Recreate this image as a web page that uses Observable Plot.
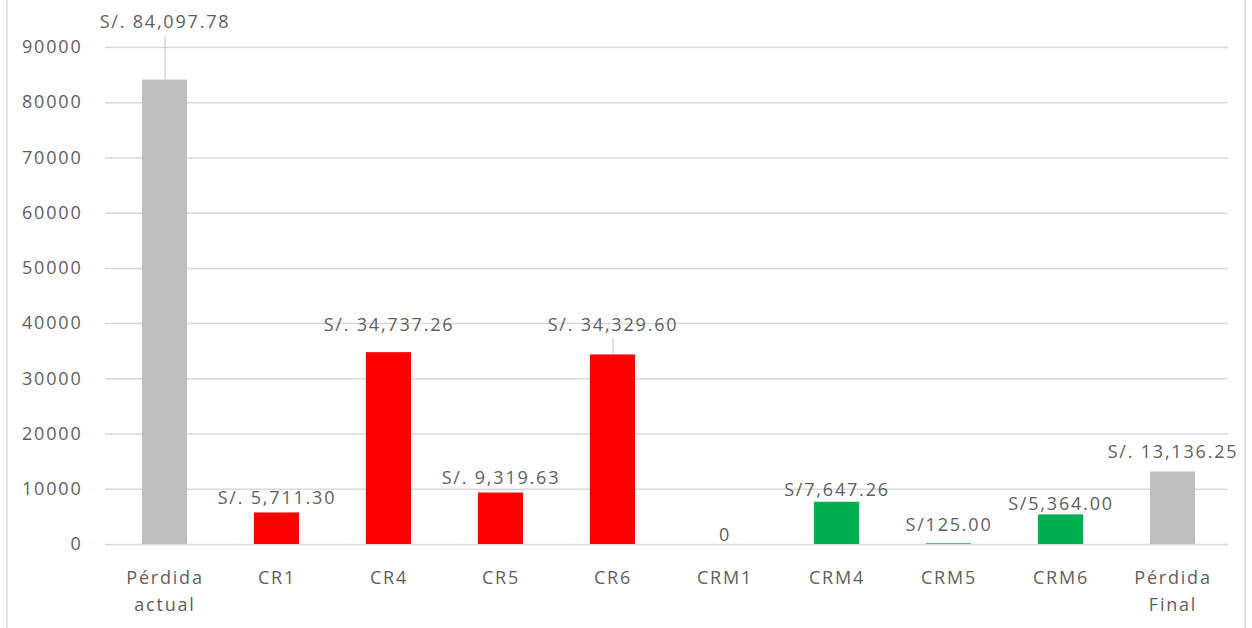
<!DOCTYPE html>
<html>
<head>
<meta charset="utf-8">
<script src="https://cdn.jsdelivr.net/npm/d3@7"></script>
<script src="https://cdn.jsdelivr.net/npm/@observablehq/plot@0.6"></script>
<style>
  html, body { margin: 0; padding: 0; background: #ffffff; }
  #wrap { position: relative; width: 1252px; height: 628px; overflow: hidden; }
  #wrap::before, #wrap::after {
    content: ""; position: absolute; top: 0; bottom: 0; width: 2px; background: #e4e4e4;
  }
  #wrap::before { left: 6px; }
  #wrap::after { left: 1244px; }
  #wrap svg text { letter-spacing: 1.8px; }
</style>
</head>
<body>
<div id="wrap"></div>
<script>
// Categories along the x axis (line breaks split the two-line labels)
const categories = ["Pérdida\nactual", "CR1", "CR4", "CR5", "CR6", "CRM1", "CRM4", "CRM5", "CRM6", "Pérdida\nFinal"];
// Amounts in soles
const values = [84097.78, 5711.30, 34737.26, 9319.63, 34329.60, 0, 7647.26, 125.00, 5364.00, 13136.25];
// Value labels as printed above each bar
const valueLabels = ["S/. 84,097.78", "S/. 5,711.30", "S/. 34,737.26", "S/. 9,319.63", "S/. 34,329.60", "0", "S/7,647.26", "S/125.00", "S/5,364.00", "S/. 13,136.25"];
// Group of each bar: loss, risk control, mitigation control
const groups = ["loss", "cr", "cr", "cr", "cr", "crm", "crm", "crm", "crm", "loss"];
const yTicks = [0, 10000, 20000, 30000, 40000, 50000, 60000, 70000, 80000, 90000];

const rows = categories.map((c, i) => ({cat: c, value: values[i], label: valueLabels[i], group: groups[i], i}));

const groupColor = {loss: "#bfbfbf", cr: "#ff0000", crm: "#00b050"};
// vertical placement of each value label relative to its bar top (px)
const labelLift = [-58, -15, -27, -15, -30, -9, -12, -19, -11, -20];
// labels drawn away from their bar get a thin leader line
const leaders = rows.filter(d => d.i === 0 || d.i === 4);

const font = "'Open Sans', Lato, sans-serif";
const textColor = "#5f5f5f";

const chart = Plot.plot({
  width: 1252,
  height: 628,
  marginLeft: 108,
  marginRight: 24,
  marginTop: 47,
  marginBottom: 84,
  style: {fontFamily: font, fontSize: "18px", color: textColor, background: "transparent"},
  x: {domain: categories, paddingInner: 0.6, paddingOuter: 0.3, label: null},
  y: {domain: [0, 90000], label: null},
  marks: [
    Plot.ruleY(yTicks, {stroke: "#d9d9d9", strokeWidth: 1.5, insetLeft: -3}),
    Plot.barY(rows, {x: "cat", y: "value", fill: d => groupColor[d.group]}),
    Plot.ruleX(leaders, {
      x: "cat",
      y1: "value",
      y2: "value",
      stroke: "#bfbfbf",
      strokeWidth: 1,
      render: (index, scales, values, dims, ctx, next) => {
        const g = next(index, scales, values, dims, ctx);
        d3.select(g).selectAll("line").each(function(_, k) {
          const d = leaders[index[k]];
          const yTop = scales.y(d.value);
          d3.select(this).attr("y1", yTop).attr("y2", yTop + labelLift[d.i] + 14);
        });
        return g;
      }
    }),
    Plot.text(rows, {
      x: "cat",
      y: "value",
      text: "label",
      fill: textColor,
      fontSize: 18,
      render: (index, scales, values, dims, ctx, next) => {
        const g = next(index, scales, values, dims, ctx);
        d3.select(g).selectAll("text").each(function(_, k) {
          const i = index[k];
          const tr = d3.select(this).attr("transform");
          d3.select(this).attr("transform", (tr ? tr + " " : "") + `translate(0,${labelLift[i]})`);
        });
        return g;
      }
    }),
    Plot.axisY(yTicks, {tickSize: 0, tickPadding: 26, tickFormat: d3.format("d"), fill: textColor, fontSize: 18}),
    Plot.axisX({tickSize: 0, tickPadding: 20, fill: textColor, fontSize: 18, lineHeight: 1.5, label: null})
  ]
});

document.getElementById("wrap").appendChild(chart);
</script>
</body>
</html>
